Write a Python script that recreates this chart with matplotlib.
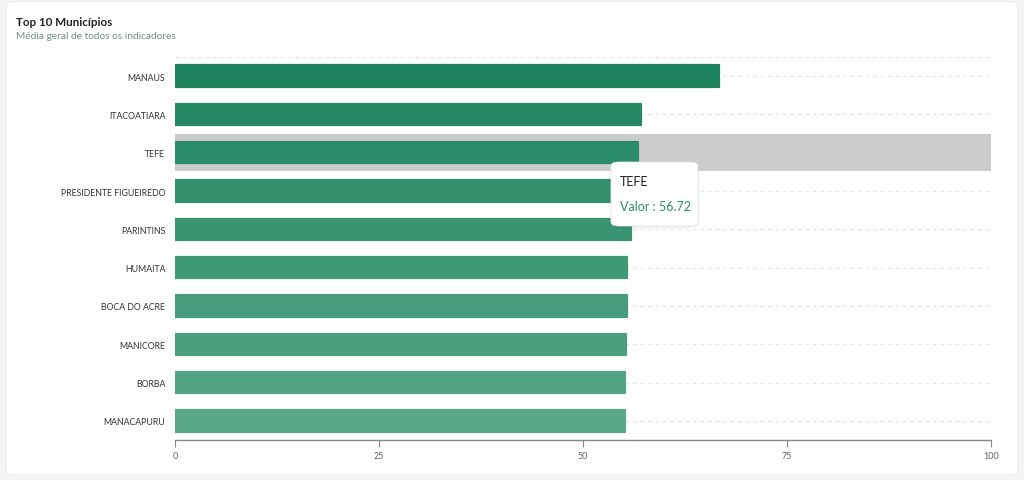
import matplotlib
matplotlib.use("Agg")
import matplotlib.pyplot as plt
from matplotlib.patches import FancyBboxPatch
import matplotlib.colors as mcolors
import numpy as np

plt.rcParams['font.family'] = ['Lato', 'DejaVu Sans']

municipios = ["MANAUS", "ITACOATIARA", "TEFE", "PRESIDENTE FIGUEIREDO", "PARINTINS",
              "HUMAITA", "BOCA DO ACRE", "MANICORE", "BORBA", "MANACAPURU"]
valores = [66.7, 57.1, 56.72, 56.3, 55.9, 55.4, 55.35, 55.3, 55.2, 55.1]
x_ticks = [0, 25, 50, 75, 100]
highlight = "TEFE"

fig = plt.figure(figsize=(10.24, 4.81), dpi=100)
fig.patch.set_facecolor("#f4f5f5")
card = FancyBboxPatch((0.006, 0.01), 0.988, 0.985, boxstyle="round,pad=0,rounding_size=0.008",
                      transform=fig.transFigure, facecolor="white", edgecolor="#ececec", lw=0.8,
                      zorder=-10)
fig.patches.append(card)

ax = fig.add_axes([0.1709, 0.0832, 0.7969, 0.7962])
ax.set_facecolor("none")

n = len(municipios)
ypos = np.arange(n)
base = np.array(mcolors.to_rgb("#1e8460"))
light = np.array(mcolors.to_rgb("#5aa888"))

# highlight band
hi = municipios.index(highlight)
ax.barh(hi, 100, height=0.97, color="#cccccc", zorder=1)

for i, (y, v) in enumerate(zip(ypos, valores)):
    t = i / (n - 1)
    c = base * (1 - t) + light * t
    ax.barh(y, v, height=0.56, color=c, edgecolor=c, linewidth=1.6,
            joinstyle="round", zorder=3)

ax.set_xlim(0, 100)
ax.set_ylim(n - 0.5, -0.5)
ax.set_yticks(ypos)
ax.set_yticklabels(municipios, fontsize=6.3, color="#333333")
ax.set_xticks(x_ticks)
ax.set_xticklabels([str(v) for v in x_ticks], fontsize=6.5, color="#666666")
ax.tick_params(axis="y", length=0, pad=7)
ax.tick_params(axis="x", length=5, color="#888888", width=0.8, pad=3)

for s in ["top", "right", "left"]:
    ax.spines[s].set_visible(False)
ax.spines["bottom"].set_color("#888888")
ax.spines["bottom"].set_linewidth(1)

for y in list(ypos) + [-0.5]:
    ax.axhline(y, color="#dde9e5", lw=0.9, ls=(0, (3, 3)), zorder=0)

# titles
fig.text(16/1024, 1 - 22/481, "Top 10 Municípios", fontsize=8.4, fontweight="bold",
         color="#222222", va="center", ha="left")
fig.text(16/1024, 1 - 37/481, "Média geral de todos os indicadores", fontsize=7.3,
         color="#6f8f86", va="center", ha="left")

# tooltip
x0, x1 = 611/1024, 698/1024
y0, y1 = 1 - 227/481, 1 - 163/481
shadow = FancyBboxPatch((x0 + 0.001, y0 - 0.004), x1 - x0, y1 - y0,
                        boxstyle="round,pad=0,rounding_size=0.008",
                        transform=fig.transFigure, facecolor="#000000", alpha=0.06,
                        edgecolor="none", zorder=10)
tip = FancyBboxPatch((x0, y0), x1 - x0, y1 - y0, boxstyle="round,pad=0,rounding_size=0.008",
                     transform=fig.transFigure, facecolor="white", edgecolor="#e6e6e6",
                     lw=0.6, zorder=11)
fig.patches.append(shadow)
fig.patches.append(tip)
fig.text(620/1024, 1 - 182/481, highlight, fontsize=9, color="#222222",
         va="center", ha="left", zorder=12)
fig.text(620/1024, 1 - 207/481, f"Valor : {valores[hi]}", fontsize=9, color="#2f8a70",
         va="center", ha="left", zorder=12)

fig.savefig("out.png", dpi=100)
